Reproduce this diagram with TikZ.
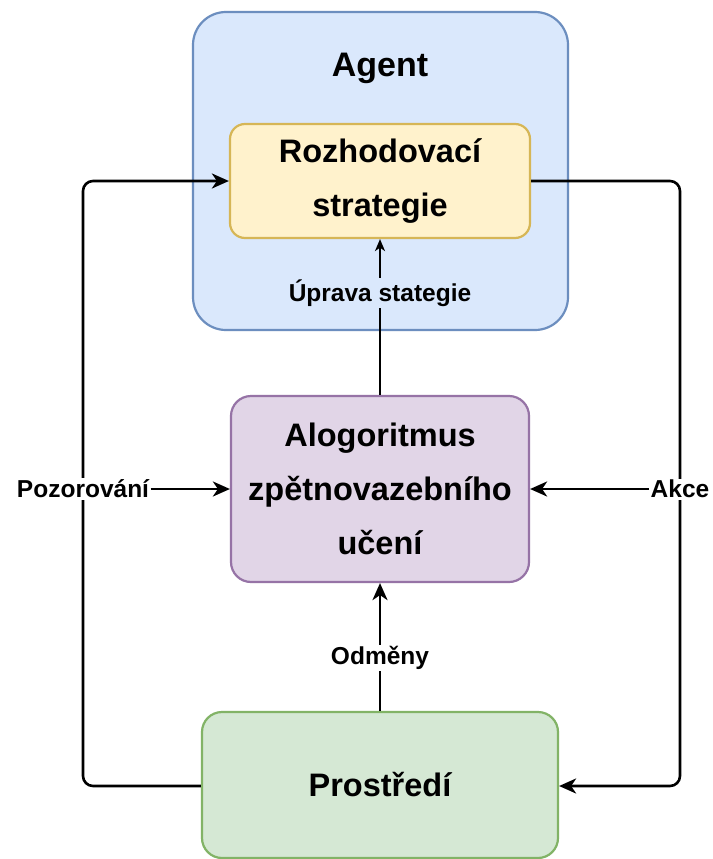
\documentclass[tikz,border=0pt]{standalone}
\usepackage{fontspec}
\setmainfont{Liberation Sans}
\usetikzlibrary{arrows.meta}
\definecolor{agentfill}{HTML}{DAE8FC}
\definecolor{agentdraw}{HTML}{6C8EBF}
\definecolor{yfill}{HTML}{FFF2CC}
\definecolor{ydraw}{HTML}{D6B656}
\definecolor{pfill}{HTML}{E1D5E7}
\definecolor{pdraw}{HTML}{9673A6}
\definecolor{gfill}{HTML}{D5E8D4}
\definecolor{gdraw}{HTML}{82B366}
\tikzset{
  box/.style={draw, line width=2.2pt, align=center, inner sep=0pt,
    font=\fontsize{32.5}{54}\selectfont\bfseries},
  lbl/.style={font=\fontsize{24.5}{27}\selectfont\bfseries, inner sep=1.5pt, fill=white},
  conn/.style={line width=2.6pt, rounded corners=10pt},
  arr/.style={-{Stealth[length=17pt,width=15pt,inset=5pt]}},
  smallarr/.style={-{Stealth[length=12pt,width=10pt,inset=3.5pt]}}
}
\begin{document}
\begin{tikzpicture}[x=1pt,y=-1pt]
\useasboundingbox[fill=white] (0,0) rectangle (712,859);
% Agent container
\node[box, fill=agentfill, draw=agentdraw, rounded corners=33pt,
  minimum width=375pt, minimum height=318pt] (agent) at (380.5,171) {};
\node[font=\fontsize{34}{38}\selectfont\bfseries] (agenttxt) at (380,68) {Agent};
% Inner boxes
\node[box, fill=yfill, draw=ydraw, rounded corners=15pt,
  minimum width=300pt, minimum height=114pt] (rozh) at (380,181) {Rozhodovací\\strategie};
\node[box, fill=pfill, draw=pdraw, rounded corners=20pt,
  minimum width=298pt, minimum height=186pt] (alg) at (380,489) {Alogoritmus\\zpětnovazebního\\učení};
\node[box, fill=gfill, draw=gdraw, rounded corners=20pt,
  minimum width=356pt, minimum height=146pt] (prost) at (380,785) {Prostředí};
% Outer loop paths
\coordinate (lc1) at (83,786);
\coordinate (lc2) at (83,181);
\coordinate (rc1) at (680,181);
\coordinate (rc2) at (680,786);
\draw[conn, arr] (prost.west |- lc1) -- (lc1) -- (lc2) -- (rozh.west |- lc2);
\draw[conn, arr] (rozh.east |- rc1) -- (rc1) -- (rc2) -- (prost.east |- rc2);
% Observation and action labels
\node[lbl] (poz) at (83,489) {Pozorování};
\node[lbl] (akce) at (680,489) {Akce};
\draw[conn, arr] (poz.east) -- (alg.west);
\draw[conn, arr] (akce.west) -- (alg.east);
% Rewards
\node[lbl] (odm) at (380,658) {Odměny};
\draw[conn] (prost.north) -- (odm.south);
\draw[conn, arr] (odm.north) -- (alg.south);
% Strategy update
\node[lbl, fill=agentfill] (upr) at (380,293) {Úprava stategie};
\draw[conn] (alg.north) -- (upr.south);
\draw[line width=2pt, smallarr] (upr.north) -- (rozh.south);
\end{tikzpicture}
\end{document}
